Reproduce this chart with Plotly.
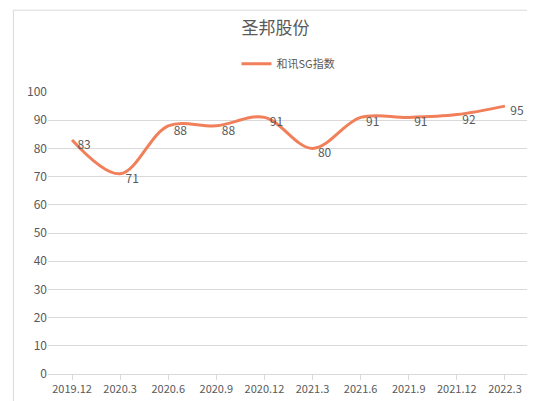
import plotly.graph_objects as go

categories = ["2019.12","2020.3","2020.6","2020.9","2020.12","2021.3","2021.6","2021.9","2021.12","2022.3"]
values = [83,71,88,88,91,80,91,91,92,95]
series_name = "和讯SG指数"
title = "圣邦股份"

fig = go.Figure(go.Scatter(
    x=categories, y=values, mode="lines+text", name=series_name,
    line=dict(color="#F07F5A", width=3, shape="spline", smoothing=1.0),
    text=["  " + str(v) for v in values], textposition="bottom right",
    textfont=dict(color="#595959", size=12),
))
fig.update_layout(
    width=535, height=401, paper_bgcolor="white", plot_bgcolor="white",
    margin=dict(l=40, r=14, t=84, b=35, autoexpand=False),
    font=dict(family="Noto Sans CJK SC, sans-serif", color="#595959"),
    title=dict(text=title, x=0.5, xanchor="center", y=0.95, yanchor="middle",
               font=dict(size=17, color="#595959")),
    showlegend=True,
    legend=dict(orientation="h", x=0.5, xanchor="center", y=1.1, yanchor="middle",
                font=dict(size=11, color="#595959")),
    xaxis=dict(type="category", showgrid=False, showline=True, linecolor="#D9D9D9",
               ticks="outside", tickcolor="#D9D9D9", ticklen=5, tickfont=dict(size=11),
               automargin=False),
    yaxis=dict(range=[0,100], dtick=10, showgrid=True, gridcolor="#D9D9D9",
               zeroline=False, tickfont=dict(size=12), automargin=False),
    shapes=[dict(type="rect", xref="paper", yref="paper", x0=-0.072, x1=1.02, y0=-0.12, y1=1.29,
                 line=dict(color="#D9D9D9", width=1))],
)
fig.write_html("out.html")
